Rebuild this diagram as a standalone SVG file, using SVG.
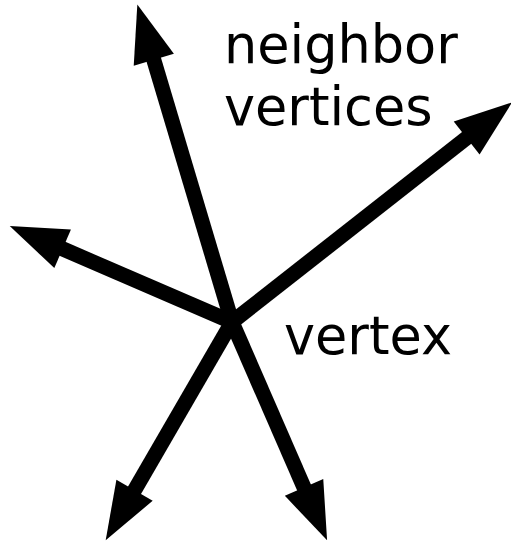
<svg xmlns="http://www.w3.org/2000/svg" width="511" height="541" viewBox="0 0 511 541">
<style>
.edge{stroke:#000;stroke-width:15;fill:none;marker-end:url(#head)}
.lbl{font-family:"DejaVu Sans",Verdana,sans-serif;font-size:52.5px;fill:#000}
</style>
<defs>
<marker id="head" markerUnits="userSpaceOnUse" markerWidth="60" markerHeight="44" refX="2" refY="0" viewBox="0 -21 56 42" orient="auto" overflow="visible">
<path d="M0,-20 L55,0 L0,20 Z" fill="#000"/>
</marker>
</defs>
<g id="connectors">
<line class="edge" x1="232" y1="322" x2="153.2" y2="57.8"/>
<line class="edge" x1="232" y1="322" x2="468.3" y2="136.7"/>
<line class="edge" x1="232" y1="322" x2="60.7" y2="248"/>
<line class="edge" x1="232" y1="322" x2="133.5" y2="492.1"/>
<line class="edge" x1="232" y1="322" x2="304.9" y2="489.4"/>
</g>
<g id="neighbor-label"><text class="lbl" x="224" y="63">neighbor</text><text class="lbl" x="224" y="125">vertices</text></g>
<g id="vertex-label"><text class="lbl" x="284" y="354">vertex</text></g>
</svg>
